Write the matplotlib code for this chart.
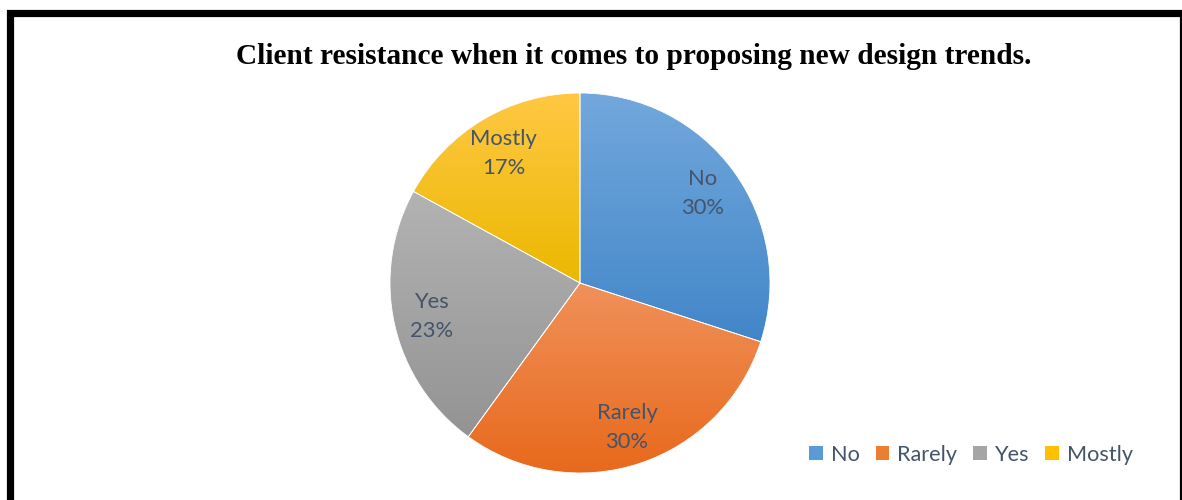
import numpy as np
import matplotlib
matplotlib.use("Agg")
import matplotlib.pyplot as plt
from matplotlib.patches import Patch, Rectangle
from matplotlib.colors import LinearSegmentedColormap

categories = ["No", "Rarely", "Yes", "Mostly"]
values = [30, 30, 23, 17]
pct_labels = ["30%", "30%", "23%", "17%"]
top_colors = ["#72A8DC", "#F0915A", "#B3B3B3", "#FFC844"]
bottom_colors = ["#4286C9", "#E8691C", "#939393", "#EBB800"]
mid_colors = ["#5B9BD5", "#ED7D31", "#A5A5A5", "#FFC000"]
title = "Client resistance when it comes to proposing new design trends."
text_color = "#44546A"

W, H = 1182, 500
fig = plt.figure(figsize=(W / 100, H / 100), dpi=100)
fig.patch.set_facecolor("white")

# frame
frame = Rectangle((10 / W, -0.1), (1182.5 - 10) / W, 1.1 - 13.5 / H,
                  transform=fig.transFigure, fill=False, edgecolor="black",
                  linewidth=5.2, clip_on=False)
fig.patches.append(frame)

fig.text(634 / W, 1 - 57 / H, title, ha="center", va="center",
         fontsize=21.2, fontweight="bold", family="Liberation Serif", color="black")

cx, cy, r = 580, 283, 190
ax = fig.add_axes([(cx - r) / W, 1 - (cy + r) / H, 2 * r / W, 2 * r / H])
wedges, _ = ax.pie(values, startangle=90, counterclock=False,
                   colors=mid_colors, radius=1.0,
                   wedgeprops=dict(edgecolor="white", linewidth=0.6))
ax.set_xlim(-1.0, 1.0)
ax.set_ylim(-1.0, 1.0)
ax.set_aspect("equal")
ax.axis("off")

for w, tc, bc in zip(wedges, top_colors, bottom_colors):
    path = w.get_path().transformed(w.get_patch_transform())
    ext = path.get_extents()
    cmap = LinearSegmentedColormap.from_list("g", [bc, tc])
    grad = np.linspace(0, 1, 256).reshape(-1, 1)
    im = ax.imshow(grad, cmap=cmap, origin="lower", aspect="auto",
                   extent=[ext.x0, ext.x1, ext.y0, ext.y1], zorder=w.get_zorder() + 0.1)
    im.set_clip_path(w)
    w.set_facecolor("none")
    w.set_zorder(w.get_zorder() + 0.2)

ax.set_xlim(-1.0, 1.0)
ax.set_ylim(-1.0, 1.0)

# labels
total = sum(values)
start = 90.0
label_dist = [0.8, 0.8, 0.8, 0.79]
for cat, v, p, d in zip(categories, values, pct_labels, label_dist):
    ang = start - 360 * v / total / 2
    start -= 360 * v / total
    x, y = d * np.cos(np.radians(ang)), d * np.sin(np.radians(ang))
    ax.text(x, y, f"{cat}\n{p}", ha="center", va="center", fontsize=15.8,
            family="Lato", color=text_color, linespacing=1.55, zorder=10)

handles = [Patch(facecolor=c, edgecolor="none") for c in mid_colors]
leg = fig.legend(handles, categories, loc="center", bbox_to_anchor=(971 / W, 1 - 455 / H),
                 ncol=4, frameon=False, handlelength=0.62, handleheight=0.62,
                 handletextpad=0.36, columnspacing=0.75, prop=dict(family="Lato", size=15.6))
for t in leg.get_texts():
    t.set_color(text_color)

fig.savefig("out.png", dpi=100, facecolor="white")
